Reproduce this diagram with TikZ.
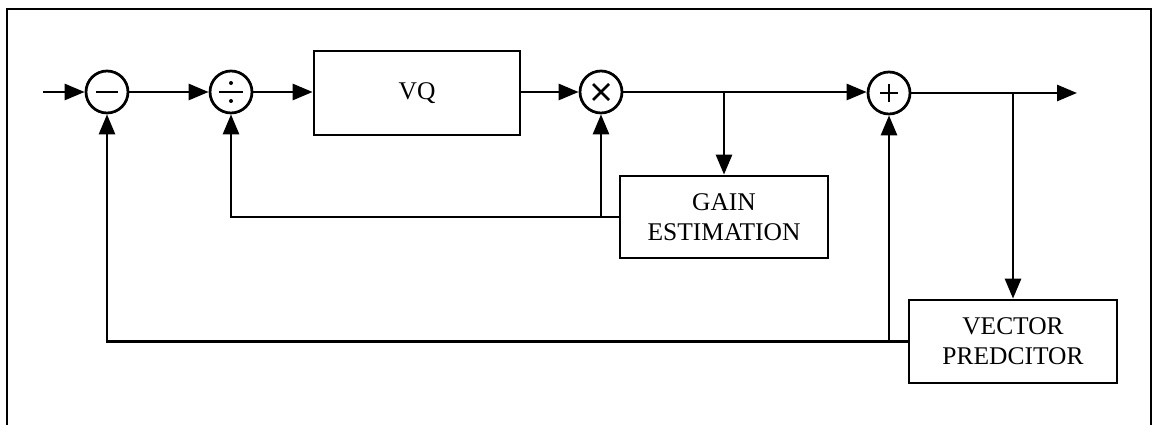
\documentclass[tikz,border=0pt]{standalone}
\usepackage{fontspec}
\setmainfont{Liberation Serif}
\usepackage{tikz}
\usetikzlibrary{arrows.meta,positioning,calc}

\begin{document}
\begin{tikzpicture}[
  x=0.02cm, y=-0.02cm,
  line width=0.055cm,
  every node/.style={font=\fontsize{14.5}{17}\selectfont}
]
  % Styles
  \tikzstyle{block} = [rectangle, draw=black, line width=0.055cm, align=center, inner sep=0pt]
  \tikzstyle{junction} = [circle, draw=black, line width=0.055cm, minimum size=0.84cm, inner sep=0pt]
  \tikzstyle{sig} = [-{Triangle[length=0.4cm, width=0.32cm]}]

  \useasboundingbox (0,0) rectangle (1152,425);

  % Frame
  \draw[line width=0.045cm] (7,425) |- (1151,9) -- (1151,425);

  % Forward path
  \coordinate (in) at (43,92);
  \node[junction] (sub) at (107,92) {};
  \node[junction] (div) at (231,92) {};
  \node[block, minimum width=4.12cm, minimum height=1.68cm] (vq) at (417,93) {VQ};
  \node[junction] (mul) at (601,92) {};
  \node[junction] (add) at (889,93) {};
  \coordinate (out) at (1077,93);

  % Side blocks
  \node[block, minimum width=4.16cm, minimum height=1.64cm] (gain) at (724,217) {GAIN\\ESTIMATION};
  \node[block, minimum width=4.16cm, minimum height=1.66cm] (pred) at (1013,341.5) {VECTOR\\PREDCITOR};

  % Operator symbols
  \draw ($(sub)+(-11,0)$) -- ($(sub)+(11,0)$);
  \draw ($(div)+(-12,0)$) -- ($(div)+(12,0)$);
  \fill ($(div)+(0,-9)$) circle (2);
  \fill ($(div)+(0,9)$) circle (2);
  \draw ($(mul)+(-8,-8)$) -- ($(mul)+(8,8)$);
  \draw ($(mul)+(-8,8)$) -- ($(mul)+(8,-8)$);
  \draw ($(add)+(-9,0)$) -- ($(add)+(9,0)$);
  \draw ($(add)+(0,-9)$) -- ($(add)+(0,9)$);

  % Arrows
  \draw[sig] (in) -- (sub.west);
  \draw[sig] (sub.east) -- (div.west);
  \draw[sig] (div.east) -- (vq.west |- div.east);
  \draw[sig] (vq.east |- mul.west) -- (mul.west);
  \draw[sig] (mul.east) -- (add.west |- mul.east);
  \draw[sig] (add.east) -- (out);
  \draw[sig] (gain.north |- mul.east) -- (gain.north);
  \draw[sig] (pred.north |- add.east) -- (pred.north);

  % Feedback loops
  \draw[sig] (gain.west) -| (div.south);
  \draw[sig] (mul.south |- gain.west) -- (mul.south);
  \draw[sig] (pred.west) -| (sub.south);
  \draw[sig] (add.south |- pred.west) -- (add.south);
\end{tikzpicture}
\end{document}
